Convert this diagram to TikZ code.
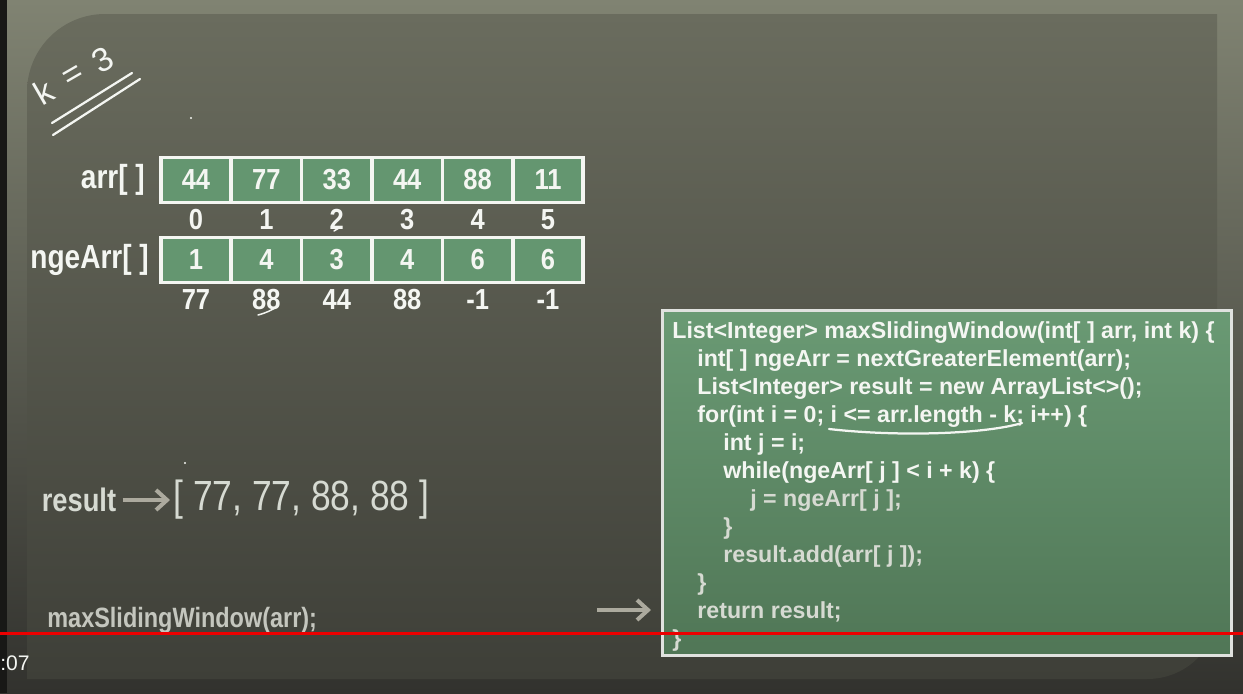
\documentclass[tikz,border=0pt]{standalone}
\usepackage{fontspec}
\setmainfont{Liberation Sans}
\newfontfamily\numfont[FakeStretch=0.88]{Liberation Sans}
\newfontfamily\labfont[FakeStretch=0.84]{Liberation Sans}
\usepackage{xcolor}
\definecolor{frametop}{RGB}{128,131,114}
\definecolor{framemid}{RGB}{108,110,97}
\definecolor{framebot}{RGB}{50,50,46}
\definecolor{boardtop}{RGB}{106,108,94}
\definecolor{boardbot}{RGB}{62,63,56}
\definecolor{edgeblack}{RGB}{24,24,22}
\definecolor{cellgreen}{RGB}{100,150,112}
\definecolor{codetop}{RGB}{106,154,116}
\definecolor{codebot}{RGB}{80,118,86}
\definecolor{chalk}{RGB}{244,246,242}
\definecolor{chalkdim}{RGB}{214,218,210}
\definecolor{callgray}{RGB}{196,198,190}
\definecolor{arrowgray}{RGB}{172,170,158}
\definecolor{recline}{RGB}{236,0,0}
\usetikzlibrary{arrows.meta,positioning}
\tikzset{
  cell/.style={rectangle,draw=chalk,fill=cellgreen,line width=0.07cm,minimum width=1.404cm,
    minimum height=0.9cm,inner sep=0pt,text=chalk,font=\numfont\fontsize{16.5}{18}\selectfont\bfseries},
  idx/.style={inner sep=0pt,text height=0.72em,text depth=0pt,text=chalk,
    font=\numfont\fontsize{16.5}{18}\selectfont\bfseries},
  arrlabel/.style={inner sep=0pt,anchor=east,text=chalk,font=\labfont\fontsize{19}{22}\selectfont\bfseries},
  hand/.style={inner sep=0pt,text=chalk,font=\fontsize{19}{22}\selectfont},
  chalkline/.style={draw=chalk,line width=0.045cm,line cap=round},
  chalkthin/.style={draw=chalk,line width=0.03cm,line cap=round},
  reslab/.style={inner sep=0pt,text=chalkdim,font=\labfont\fontsize{18.5}{22}\selectfont\bfseries},
  reslist/.style={inner sep=0pt,text=chalkdim,font=\labfont\fontsize{24}{28}\selectfont},
  callfont/.style={inner sep=0pt,text=callgray,font=\labfont\fontsize{15.9}{18}\selectfont\bfseries},
  graytip/.style={draw=arrowgray,line width=0.08cm,-{Straight Barb[length=0.22cm,width=0.4cm]}},
  codebg/.style={rectangle,draw=chalk!92!black,line width=0.06cm,top color=codetop,bottom color=codebot,
    minimum width=11.4cm,minimum height=6.92cm,inner sep=0pt},
  codeline/.style={inner sep=0pt,anchor=base west,text=chalk,font=\fontsize{13.2}{15.6}\selectfont\bfseries},
  codedim/.style={codeline,text=chalkdim},
  redline/.style={draw=recline,line width=0.06cm},
  timefont/.style={inner sep=0pt,text=chalk,font=\fontsize{12}{14}\selectfont},
}

\begin{document}
\begin{tikzpicture}[x=0.02cm,y=-0.02cm]
  \useasboundingbox (0,0) rectangle (1243,693);
  % frame and board
  \shade[top color=frametop,middle color=framemid,bottom color=framebot] (0,0) rectangle (1243,693);
  \fill[edgeblack] (0,0) rectangle (7,693);
  \shade[top color=boardtop,bottom color=boardbot]
    (27,679) -- (27,92) .. controls (27,49) and (62,14) .. (105,14)
    -- (1217,14) -- (1217,610) .. controls (1217,649) and (1186,679) .. (1147,679) -- cycle;

  % k = 3 note
  \node[hand,rotate=30] (kk) at (44,92) {k};
  \node[hand,rotate=30] (keq) at (74,77) {=};
  \node[hand,rotate=30] (kthree) at (103,60) {3};
  \draw[chalkline] (52,123) -- (132,73);
  \draw[chalkline] (53,135) -- (140,79);
  \fill[chalk] (191,118) circle[radius=1.2];
  \fill[chalk] (185,463) circle[radius=1.2];

  % arrays
  \foreach \v [count=\i from 0] in {44,77,33,44,88,11}{
    \node[cell] (a\i) at (196+70.4*\i,180) {\v};
    \node[idx,below=0.24cm of a\i] (ai\i) {\i};
  }
  \foreach \v [count=\i from 0] in {1,4,3,4,6,6}{
    \node[cell] (n\i) at (196+70.4*\i,260) {\v};
  }
  \foreach \w [count=\i from 0] in {77,88,44,88,-1,-1}{
    \node[idx,below=0.24cm of n\i] (nv\i) {\w};
  }
  \node[arrlabel,left=0.28cm of a0] (arrlab) {arr[ ]};
  \node[arrlabel,left=0.2cm of n0] (ngelab) {ngeArr[ ]};
  \draw[chalkthin] (334,231) -- (339,228);
  \draw[chalkthin] (258,315) .. controls (266,313) and (272,310) .. (278,306);

  % result
  \node[reslab] (reslab) at (79,500) {result};
  \node[reslist,anchor=west] (reslist) at (173,500) {[ 77, 77, 88, 88 ]};
  \draw[graytip,shorten <=0.12cm,shorten >=0.06cm] (reslab) -- (reslist);

  % call
  \node[callfont,anchor=west] (call) at (47,620) {maxSlidingWindow(arr);};
  \coordinate (callstart) at (597,610);
  \coordinate (callend) at (651,610);
  \draw[graytip] (callstart) -- (callend);

  % code box
  \node[codebg] (codebox) at (947,483) {};
  \node[codeline] (c1) at (672,338) {List<Integer> maxSlidingWindow(int[ ] arr, int k) \{};
  \node[codeline] (c2) at (697,366) {int[ ] ngeArr = nextGreaterElement(arr);};
  \node[codeline] (c3) at (697,394) {List<Integer> result = new ArrayList<>();};
  \node[codeline] (c4) at (697,422) {for(int i = 0; i <= arr.length - k; i++) \{};
  \node[codeline] (c5) at (723,450) {int j = i;};
  \node[codeline] (c6) at (723,478) {while(ngeArr[ j ] < i + k) \{};
  \node[codedim] (c7) at (750,506) {j = ngeArr[ j ];};
  \node[codedim] (c8) at (723,534) {\}};
  \node[codedim] (c9) at (723,562) {result.add(arr[ j ]);};
  \node[codedim] (c10) at (697,590) {\}};
  \node[codedim] (c11) at (697,618) {return result;};
  \node[codedim] (c12) at (672,646) {\}};
  \draw[chalkline] (829,429) .. controls (900,437) and (985,434) .. (1022,423);

  % player overlay
  \coordinate (redl) at (0,633);
  \coordinate (redr) at (1243,633);
  \draw[redline] (redl) -- (redr);
  \node[timefont,anchor=west] (time) at (0,663) {:07};
\end{tikzpicture}
\end{document}
